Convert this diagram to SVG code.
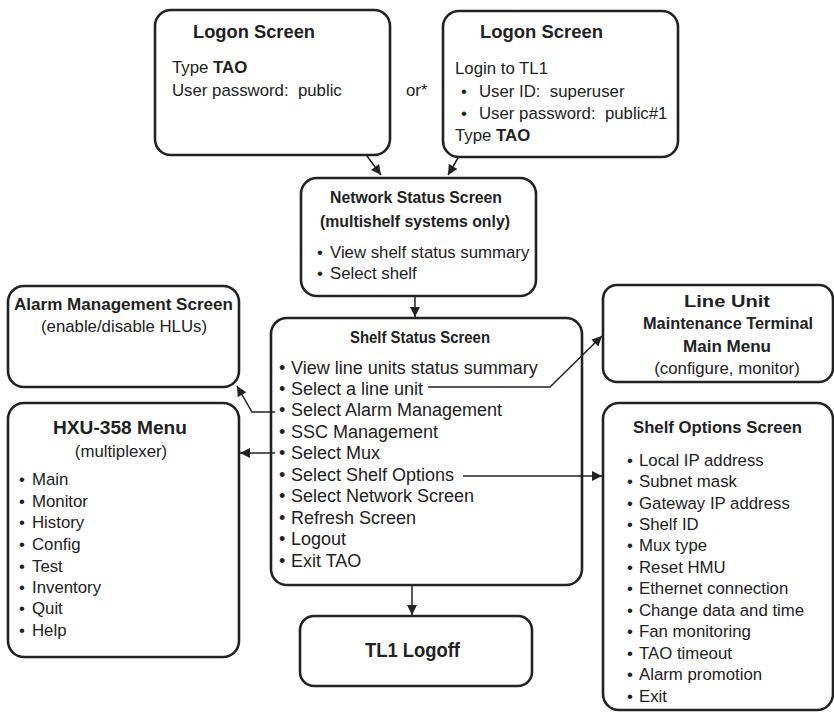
<svg xmlns="http://www.w3.org/2000/svg" width="834" height="712" viewBox="0 0 834 712">
<defs>
<marker id="ah" viewBox="0 0 10 10" refX="10" refY="5" markerWidth="11" markerHeight="10" markerUnits="userSpaceOnUse" orient="auto">
<path d="M0,0 L10,5 L0,10 z" fill="#222"/>
</marker>
<style>
.box{fill:#fff;stroke:#222;stroke-width:2.6}
.t{font-family:"Liberation Sans",Arial,sans-serif;font-size:16.8px;fill:#222;white-space:pre}
.s{font-size:18px}
.b{font-family:"Liberation Sans",Arial,sans-serif;font-size:17px;font-weight:bold;fill:#222}
.c{text-anchor:middle}
.ln{fill:none;stroke:#222;stroke-width:1.5}
</style>
</defs>
<rect width="834" height="712" fill="#fff"/>

<g id="logon1">
<rect class="box" x="155" y="10" width="235" height="145" rx="16"/>
<text class="b" x="193" y="38" textLength="122" lengthAdjust="spacingAndGlyphs" style="font-size:18px">Logon Screen</text>
<text class="t" x="172" y="73">Type <tspan font-weight="bold">TAO</tspan></text>
<text class="t" x="172" y="96" xml:space="preserve">User password:  public</text>
</g>

<g id="or-label"><text class="t" x="406" y="96">or*</text></g>

<g id="logon2">
<rect class="box" x="443" y="11" width="235" height="146" rx="16"/>
<text class="b" x="480" y="38" textLength="123" lengthAdjust="spacingAndGlyphs" style="font-size:18px">Logon Screen</text>
<text class="t" x="455" y="74">Login to TL1</text>
<text class="t" y="97" xml:space="preserve"><tspan x="461">•</tspan><tspan x="479">User ID:  superuser</tspan></text>
<text class="t" y="119" xml:space="preserve"><tspan x="461">•</tspan><tspan x="479">User password:  public#1</tspan></text>
<text class="t" x="455" y="141">Type <tspan font-weight="bold">TAO</tspan></text>
</g>

<g id="network">
<rect class="box" x="301" y="178" width="235" height="118" rx="16"/>
<text class="b" x="330" y="203" textLength="172" lengthAdjust="spacingAndGlyphs">Network Status Screen</text>
<text class="b" x="320" y="227" textLength="190" lengthAdjust="spacingAndGlyphs">(multishelf systems only)</text>
<text class="t" y="258"><tspan x="317">•</tspan><tspan x="330">View shelf status summary</tspan></text>
<text class="t" y="279"><tspan x="317">•</tspan><tspan x="330">Select shelf</tspan></text>
</g>

<g id="alarm">
<rect class="box" x="8" y="286" width="231" height="101" rx="16"/>
<text class="b" x="14" y="310" textLength="219" lengthAdjust="spacingAndGlyphs">Alarm Management Screen</text>
<text class="t c" x="124" y="332">(enable/disable HLUs)</text>
</g>

<g id="hxu">
<rect class="box" x="8" y="403" width="231" height="254" rx="16"/>
<text class="b" x="53" y="434" textLength="134" lengthAdjust="spacingAndGlyphs" style="font-size:18px">HXU-358 Menu</text>
<text class="t c" x="121" y="457">(multiplexer)</text>
<text class="t" y="485"><tspan x="19">•</tspan><tspan x="32">Main</tspan></text>
<text class="t" y="507"><tspan x="19">•</tspan><tspan x="32">Monitor</tspan></text>
<text class="t" y="528"><tspan x="19">•</tspan><tspan x="32">History</tspan></text>
<text class="t" y="550"><tspan x="19">•</tspan><tspan x="32">Config</tspan></text>
<text class="t" y="572"><tspan x="19">•</tspan><tspan x="32">Test</tspan></text>
<text class="t" y="593"><tspan x="19">•</tspan><tspan x="32">Inventory</tspan></text>
<text class="t" y="614"><tspan x="19">•</tspan><tspan x="32">Quit</tspan></text>
<text class="t" y="636"><tspan x="19">•</tspan><tspan x="32">Help</tspan></text>
</g>

<g id="shelf-status">
<rect class="box" x="271" y="318" width="311" height="267" rx="16"/>
<text class="b" x="350" y="343" textLength="140" lengthAdjust="spacingAndGlyphs">Shelf Status Screen</text>
<text class="t s" y="374"><tspan x="279">•</tspan><tspan x="291">View line units status summary</tspan></text>
<text class="t s" y="395"><tspan x="279">•</tspan><tspan x="291">Select a line unit</tspan></text>
<text class="t s" y="416"><tspan x="279">•</tspan><tspan x="291">Select Alarm Management</tspan></text>
<text class="t s" y="438"><tspan x="279">•</tspan><tspan x="291">SSC Management</tspan></text>
<text class="t s" y="459"><tspan x="279">•</tspan><tspan x="291">Select Mux</tspan></text>
<text class="t s" y="481"><tspan x="279">•</tspan><tspan x="291">Select Shelf Options</tspan></text>
<text class="t s" y="502"><tspan x="279">•</tspan><tspan x="291">Select Network Screen</tspan></text>
<text class="t s" y="524"><tspan x="279">•</tspan><tspan x="291">Refresh Screen</tspan></text>
<text class="t s" y="545"><tspan x="279">•</tspan><tspan x="291">Logout</tspan></text>
<text class="t s" y="567"><tspan x="279">•</tspan><tspan x="291">Exit TAO</tspan></text>
</g>

<g id="line-unit">
<rect class="box" x="603" y="285" width="230" height="97" rx="14"/>
<text class="b" x="684" y="307" textLength="86" lengthAdjust="spacingAndGlyphs">Line Unit</text>
<text class="b" x="643" y="329" textLength="170" lengthAdjust="spacingAndGlyphs">Maintenance Terminal</text>
<text class="b" x="683" y="352" textLength="88" lengthAdjust="spacingAndGlyphs">Main Menu</text>
<text class="t c" x="727" y="374">(configure, monitor)</text>
</g>

<g id="shelf-options">
<rect class="box" x="603" y="403" width="230" height="307" rx="16"/>
<text class="b" x="633" y="433" textLength="169" lengthAdjust="spacingAndGlyphs">Shelf Options Screen</text>
<text class="t" y="466"><tspan x="627">•</tspan><tspan x="639">Local IP address</tspan></text>
<text class="t" y="487"><tspan x="627">•</tspan><tspan x="639">Subnet mask</tspan></text>
<text class="t" y="509"><tspan x="627">•</tspan><tspan x="639">Gateway IP address</tspan></text>
<text class="t" y="530"><tspan x="627">•</tspan><tspan x="639">Shelf ID</tspan></text>
<text class="t" y="551"><tspan x="627">•</tspan><tspan x="639">Mux type</tspan></text>
<text class="t" y="573"><tspan x="627">•</tspan><tspan x="639">Reset HMU</tspan></text>
<text class="t" y="594"><tspan x="627">•</tspan><tspan x="639">Ethernet connection</tspan></text>
<text class="t" y="616"><tspan x="627">•</tspan><tspan x="639">Change data and time</tspan></text>
<text class="t" y="637"><tspan x="627">•</tspan><tspan x="639">Fan monitoring</tspan></text>
<text class="t" y="659"><tspan x="627">•</tspan><tspan x="639">TAO timeout</tspan></text>
<text class="t" y="680"><tspan x="627">•</tspan><tspan x="639">Alarm promotion</tspan></text>
<text class="t" y="702"><tspan x="627">•</tspan><tspan x="639">Exit</tspan></text>
</g>

<g id="tl1-logoff">
<rect class="box" x="300" y="616" width="232" height="70" rx="14"/>
<text class="b" x="365" y="657" textLength="95" lengthAdjust="spacingAndGlyphs" style="font-size:19.5px">TL1 Logoff</text>
</g>

<g id="connectors">
<path class="ln" d="M367,156 L381,175" marker-end="url(#ah)"/>
<path class="ln" d="M458,158 L448,175" marker-end="url(#ah)"/>
<path class="ln" d="M415,297 L415,317" marker-end="url(#ah)"/>
<path class="ln" d="M428,387 L550,387 L602,336" marker-end="url(#ah)"/>
<path class="ln" d="M275,412 L252,412 L237,386" marker-end="url(#ah)"/>
<path class="ln" d="M275,453 L240,453" marker-end="url(#ah)"/>
<path class="ln" d="M463,476 L602,476" marker-end="url(#ah)"/>
<path class="ln" d="M412,586 L412,615" marker-end="url(#ah)"/>
</g>
</svg>
